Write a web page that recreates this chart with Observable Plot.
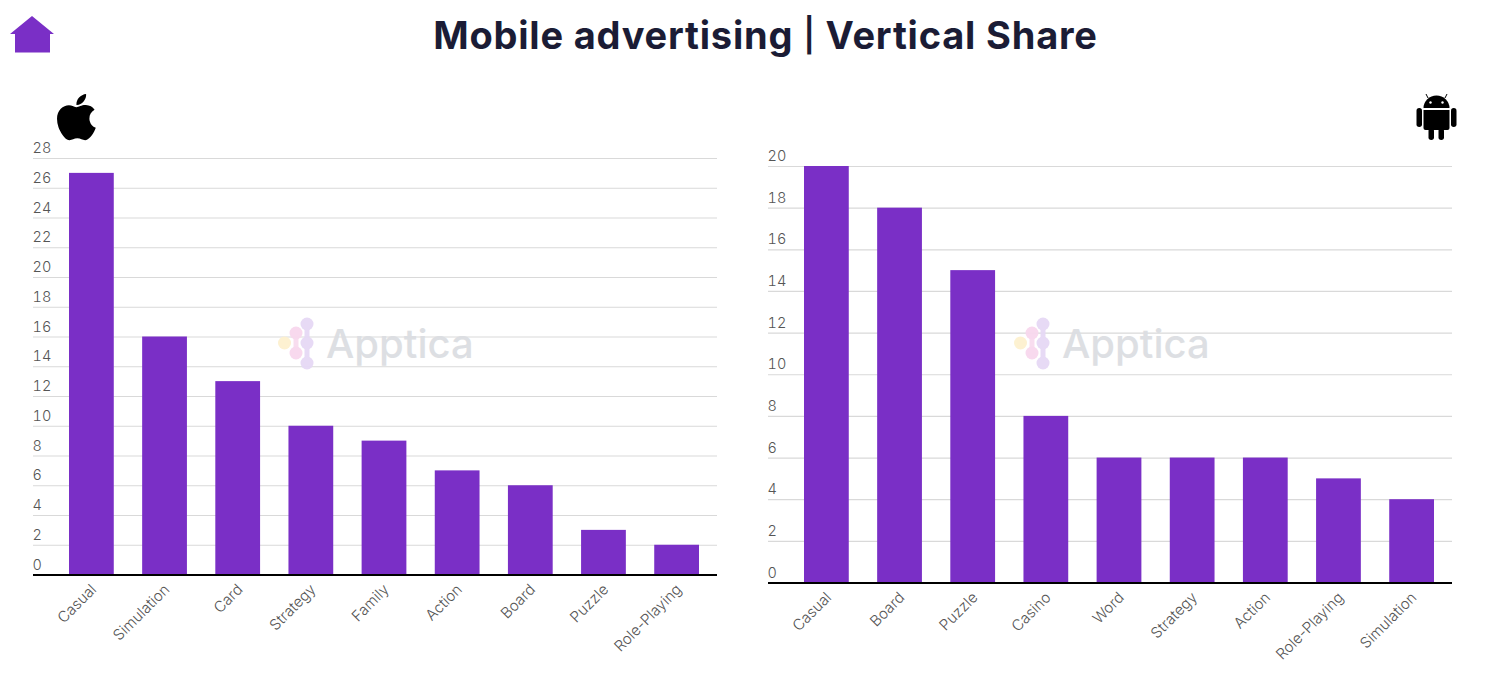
<!DOCTYPE html>
<html><head><meta charset="utf-8">
<script src="https://cdn.jsdelivr.net/npm/d3@7"></script>
<script src="https://cdn.jsdelivr.net/npm/@observablehq/plot@0.6"></script>
<style>
html,body{margin:0;padding:0;background:#fff;width:1500px;height:682px;overflow:hidden;position:relative}
#t{position:absolute;left:0;top:11px;width:1531px;text-align:center;font:700 38px/48px Inter,sans-serif;color:#1b1c35;letter-spacing:.8px}
#t span{font-size:33px;font-weight:600;position:relative;top:-2px}
.p{position:absolute;top:0}
.o{position:absolute;left:0;top:0;pointer-events:none}
svg text{font-family:Inter,sans-serif}
</style></head><body>
<div id="t">Mobile advertising <span>|</span> Vertical Share</div>
<div id="a" class="p" style="left:0"></div>
<div id="b" class="p" style="left:735px"></div>
<svg class="o" width="1500" height="682" viewBox="0 0 1500 682">
  <path d="M32 16L54 34H50V52.500H15V34H10Z" fill="#7a2fc6"/>
  <g transform="translate(56.600,90.700) scale(.103)"><path fill="#000" d="M318.700 268.700c-.2-36.700 16.400-64.400 50-84.800-18.800-26.900-47.200-41.700-84.700-44.600-35.500-2.800-74.300 20.700-88.500 20.700-15 0-49.400-19.700-76.400-19.700C63.300 141.200 4 184.800 4 273.500q0 39.300 14.400 81.200c12.800 36.700 59 126.700 107.200 125.200 25.200-.6 43-17.900 75.800-17.900 31.800 0 48.300 17.900 76.400 17.900 48.600-.7 90.400-82.500 102.600-119.300-65.200-30.700-61.700-90-61.700-91.900zm-56.600-164.200c27.300-32.400 24.800-61.900 24-72.500-24.100 1.400-52 16.400-67.900 34.900-17.500 19.800-27.800 44.300-25.600 71.900 26.100 2 49.900-11.400 69.500-34.300z"/></g>
  <g fill="#000">
    <path d="M1423.500 108a13 12.500 0 0 1 26 0Z"/>
    <path d="M1423.500 110h26v18a2 2 0 0 1-2 2h-22a2 2 0 0 1-2-2Z"/>
    <rect x="1416.500" y="108" width="5.500" height="19" rx="2.700"/>
    <rect x="1451" y="108" width="5.500" height="19" rx="2.700"/>
    <rect x="1428.500" y="128" width="5.500" height="12" rx="2.700"/>
    <rect x="1438.500" y="128" width="5.500" height="12" rx="2.700"/>
    <path d="M1428 98l-2-4M1445 98l2-4" stroke="#000" stroke-width="1"/>
  </g>
  <circle cx="1430.500" cy="102.500" r="1.200" fill="#fff"/><circle cx="1442.500" cy="102.500" r="1.200" fill="#fff"/>
  <g id="wm1"></g><g id="wm2" transform="translate(736,0)"></g>
</svg>
<script>
const iosCategories = ["Casual","Simulation","Card","Strategy","Family","Action","Board","Puzzle","Role-Playing"];
const iosValues = [27,16,13,10,9,7,6,3,2];
const iosTicks = d3.range(0,29,2);
const androidCategories = ["Casual","Board","Puzzle","Casino","Word","Strategy","Action","Role-Playing","Simulation"];
const androidValues = [20,18,15,8,6,6,6,5,4];
const androidTicks = d3.range(0,21,2);
const purple = "#7a2fc6";

function chart(cats, vals, ticks, top, bottom) {
  const rows = cats.map((c,i)=>({c, v: vals[i]}));
  return Plot.plot({
    width: 750, height: 682,
    marginLeft: 33, marginRight: 33, marginTop: top, marginBottom: 682-bottom,
    style: {background:"transparent", fontFamily:"Inter,sans-serif"},
    x: {domain: cats, range:[69,699], paddingInner:0.388, paddingOuter:0, round:false, label:null},
    y: {domain:[0,ticks[ticks.length-1]], label:null, ticks},
    marks: [
      Plot.ruleY(ticks.slice(1), {stroke:"#d9d9d9", strokeWidth:1.200}),
      Plot.barY(rows, {x:"c", y:"v", fill:purple}),
      Plot.ruleY([0], {stroke:"#000", strokeWidth:2}),
      Plot.axisY({ticks, tickSize:0, label:null, textAnchor:"start", dy:-10, dx:-1, tickPadding:0, fontSize:14.500, fill:"#555", fontWeight:300}),
      Plot.axisX({tickSize:0, label:null, tickRotate:-45, tickPadding:13, dx:2, dy:-1, fontSize:15, fill:"#555", fontWeight:300})
    ]
  });
}
document.getElementById("a").append(chart(iosCategories, iosValues, iosTicks, 158, 574.500));
document.getElementById("b").append(chart(androidCategories, androidValues, androidTicks, 166, 582.500));

for (const id of ["wm1","wm2"]) {
  const g = d3.select("#"+id).attr("opacity",0.95);
  g.append("path").attr("d","M307 324V363").attr("stroke","#e6d9f5").attr("stroke-width",5).attr("fill","none");
  g.append("path").attr("d","M296 333V353").attr("stroke","#f8dcef").attr("stroke-width",5).attr("fill","none");
  [[284.500,343,"#fdf1cf"],[296,333,"#f8d8ee"],[296,353,"#f8d8ee"],[307,324,"#e6d9f5"],[307,343,"#e6d9f5"],[307,363,"#e6d9f5"]]
    .forEach(([x,y,f])=>g.append("circle").attr("cx",x).attr("cy",y).attr("r",6.500).attr("fill",f));
  g.append("text").attr("x",326).attr("y",358).attr("font-size",40).attr("font-weight",500).attr("fill","#dcdee2").text("Apptica");
}
</script></body></html>
